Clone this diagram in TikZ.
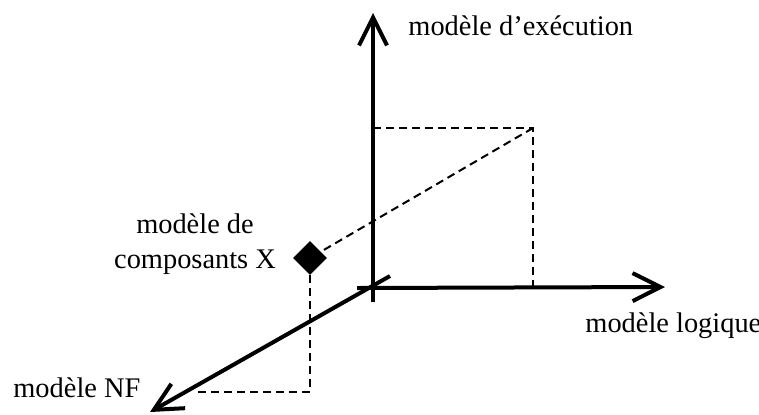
\documentclass[tikz,border=0pt]{standalone}
\usepackage{fontspec}
\setmainfont{Liberation Serif}
\usetikzlibrary{arrows.meta,shapes.geometric}
\begin{document}
\begin{tikzpicture}[x=0.5pt,y=-0.5pt,font=\fontsize{14.2}{17.5}\selectfont]
\useasboundingbox (0,0) rectangle (759,414);

\coordinate (o) at (373,288);
\coordinate (top) at (373,13);
\coordinate (bot) at (373,302);
\coordinate (right) at (665,287);
\coordinate (left) at (357,288);
\coordinate (diagstart) at (390,276);
\coordinate (diagend) at (150,412);
\coordinate (p) at (533,128);
\coordinate (pv) at (373,128);
\coordinate (ph) at (533,288);
\coordinate (q) at (310,392);
\coordinate (qd) at (197,392);

\node[diamond,fill=black,inner sep=0pt,minimum width=17pt,minimum height=17pt] (x) at (310,258) {};

\begin{scope}[line width=1pt,dash pattern=on 4pt off 2.5pt]
\draw (pv) -- (p) -- (ph);
\draw (p) -- (x);
\draw (x.south) -- (q) -- (qd);
\end{scope}

\begin{scope}[line width=2pt,-{Straight Barb[length=14pt,width=14pt]}]
\draw (bot) -- (top);
\draw (left) -- (right);
\draw (diagstart) -- (diagend);
\end{scope}

\begin{scope}[inner sep=0pt]
\node[anchor=base west] (ex) at (408,35) {modèle d’exécution};
\node[anchor=base west] (lo) at (585,332) {modèle logique};
\node[anchor=base west] (nf) at (13,397) {modèle NF};
\node[align=center,anchor=base] (co) at (195,268) {modèle de\\composants X};
\end{scope}
\end{tikzpicture}
\end{document}
